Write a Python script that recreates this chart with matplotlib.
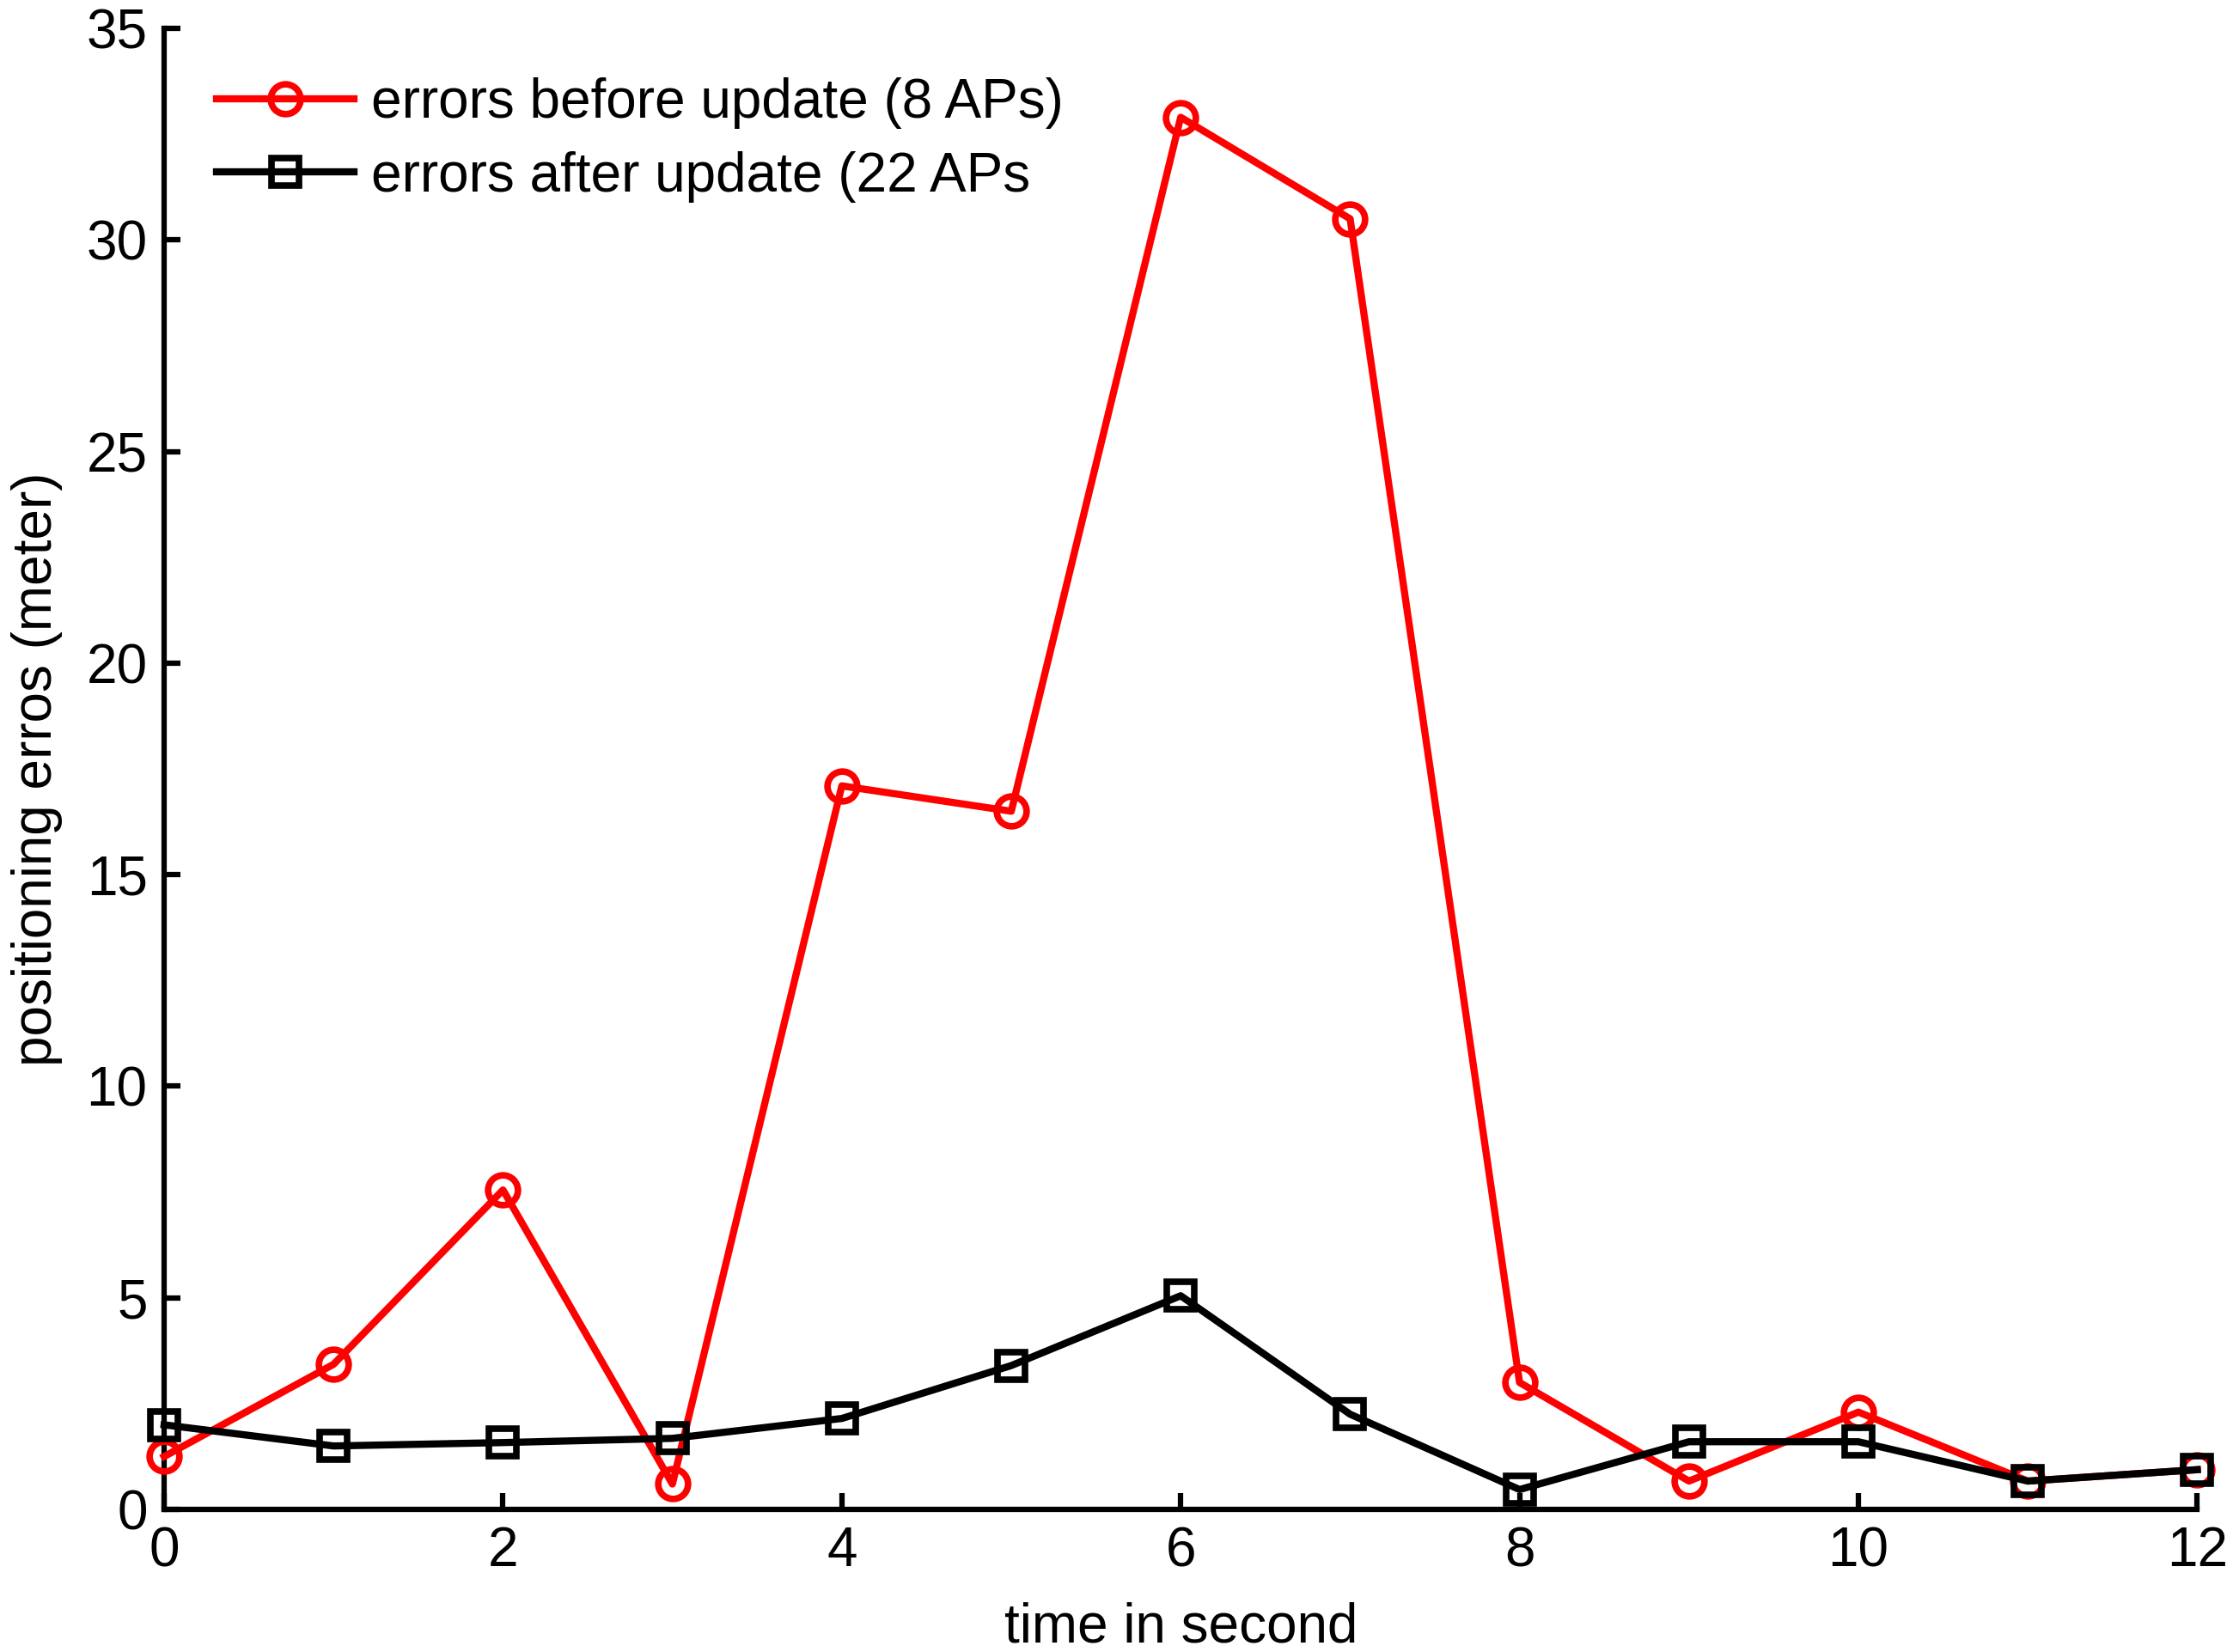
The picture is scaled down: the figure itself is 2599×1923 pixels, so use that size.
import matplotlib
matplotlib.use('Agg')
import matplotlib.pyplot as plt

plt.rcParams['font.family'] = ['Liberation Sans', 'DejaVu Sans']

t = list(range(13))
err_before = [1.25, 3.43, 7.55, 0.6, 17.1, 16.5, 32.9, 30.5, 3.0, 0.67, 2.3, 0.67, 0.94]
err_after = [2.0, 1.5, 1.58, 1.68, 2.15, 3.4, 5.05, 2.25, 0.47, 1.6, 1.6, 0.67, 0.94]
xticks = [0, 2, 4, 6, 8, 10, 12]
yticks = [0, 5, 10, 15, 20, 25, 30, 35]

fs = 46
fig = plt.figure(figsize=(25.99, 19.23), dpi=100)
ax = fig.add_axes([0.0735, 0.0863, 0.9105, 0.8965])

ax.plot(t, err_before, color='#ff0000', lw=6, marker='o', ms=25, mew=5.5,
        mfc='none', label='errors before update (8 APs)', clip_on=False, zorder=3)
ax.plot(t, err_after, color='black', lw=6, marker='s', ms=23, mew=5.5,
        mfc='none', label='errors after update (22 APs', clip_on=False, zorder=4)

ax.set_xlim(0, 12)
ax.set_ylim(0, 35)
ax.set_xticks(xticks)
ax.set_yticks(yticks)
ax.tick_params(direction='in', length=14, width=4.5, labelsize=fs, pad=14)
for s in ['top', 'right']:
    ax.spines[s].set_visible(False)
for s in ['left', 'bottom']:
    ax.spines[s].set_linewidth(4.5)

ax.set_xlabel('time in second', fontsize=fs, labelpad=20)
ax.set_ylabel('positioning erros (meter)', fontsize=fs, labelpad=20)

ax.legend(loc='upper left', bbox_to_anchor=(0.0257, 0.967), frameon=False,
          fontsize=fs, handlelength=2.5, handletextpad=0.32, labelspacing=0.40,
          borderpad=0, borderaxespad=0)

fig.savefig('out.png', dpi=100)
